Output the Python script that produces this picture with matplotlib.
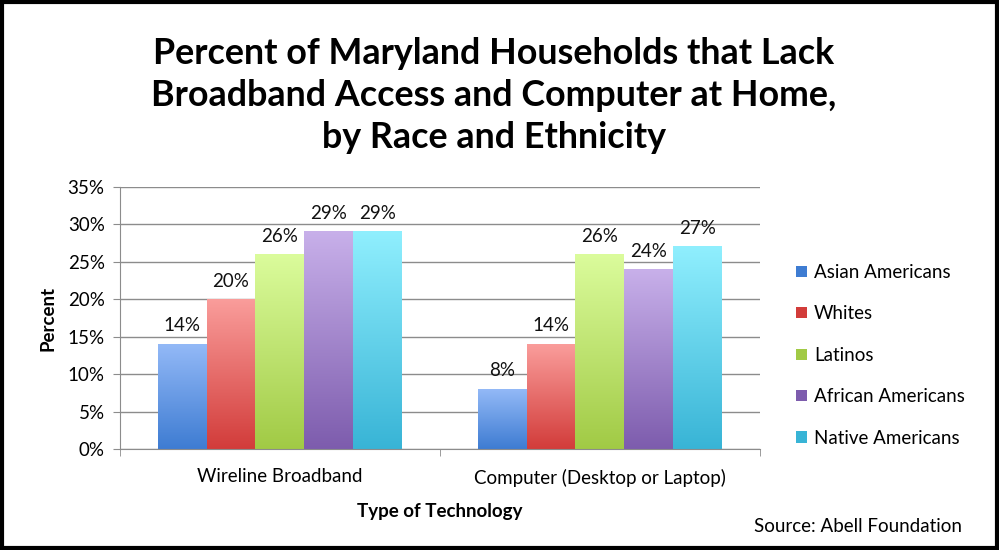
import numpy as np
import matplotlib
matplotlib.use("Agg")
import matplotlib.pyplot as plt
from matplotlib.colors import LinearSegmentedColormap
from matplotlib.patches import Rectangle

plt.rcParams['font.family'] = ['Lato', 'DejaVu Sans']

categories = ['Wireline Broadband', 'Computer (Desktop or Laptop)']
groups = ['Asian Americans', 'Whites', 'Latinos', 'African Americans', 'Native Americans']
values = {
    'Asian Americans': [14, 8],
    'Whites': [20, 14],
    'Latinos': [26, 26],
    'African Americans': [29, 24],
    'Native Americans': [29, 27],
}
# (top colour, bottom colour) for the gradient fill
shades = {
    'Asian Americans': ('#93b9f7', '#3e7cd2'),
    'Whites': ('#fa9d9b', '#d23c3a'),
    'Latinos': ('#dbfc9c', '#a1ca45'),
    'African Americans': ('#c8b0ea', '#7d5cad'),
    'Native Americans': ('#90effe', '#38b4d6'),
}
yticks = [0, 5, 10, 15, 20, 25, 30, 35]
fs = 13.5

fig = plt.figure(figsize=(9.99, 5.5), dpi=100)
ax = fig.add_axes([0.1201, 0.1836, 0.6406, 0.4764])

x = np.arange(len(categories))
width = 0.153
grad = np.linspace(1, 0, 256).reshape(-1, 1)

for i, g in enumerate(groups):
    pos = x - 2 * width + i * width
    bars = ax.bar(pos, values[g], width, color='none', edgecolor='none', zorder=2)
    cmap = LinearSegmentedColormap.from_list(g, [shades[g][1], shades[g][0]])
    for b, v in zip(bars, values[g]):
        x0, w, h = b.get_x(), b.get_width(), b.get_height()
        ax.imshow(grad, cmap=cmap, extent=[x0, x0 + w, 0, h], aspect='auto',
                  zorder=2, interpolation='bilinear', vmin=0, vmax=1)
        ax.text(x0 + w / 2, h + 1.3, f'{v}%', ha='center', va='bottom',
                fontsize=fs, color='#111111', zorder=3)

ax.set_xlim(-0.5, 1.5)
ax.set_ylim(0, 35)
ax.set_yticks(yticks)
ax.set_yticklabels([f'{t}%' for t in yticks], fontsize=fs)
ax.yaxis.grid(True, color='#8c8c8c', linewidth=1)
ax.set_axisbelow(True)
ax.set_xticks(x)
ax.set_xticklabels(categories, fontsize=fs)
ax.set_xticks([-0.5, 0.5, 1.5], minor=True)
ax.tick_params(axis='x', which='major', length=0, pad=14)
ax.tick_params(axis='x', which='minor', length=5, color='#8c8c8c')
ax.tick_params(axis='y', length=5, color='#8c8c8c', pad=6)
for s in ['top', 'right']:
    ax.spines[s].set_visible(False)
for s in ['left', 'bottom']:
    ax.spines[s].set_color('#8c8c8c')

ax.set_ylabel('Percent', fontsize=fs, fontweight='bold', labelpad=8)
ax.set_xlabel('Type of Technology', fontsize=fs, fontweight='bold', labelpad=12)

handles = [Rectangle((0, 0), 1, 1, facecolor=shades[g][1], edgecolor='none') for g in groups]
fig.legend(handles, groups, loc='center left', bbox_to_anchor=(0.797, 0.354),
           frameon=False, fontsize=fs, handlelength=0.55, handleheight=0.55,
           handletextpad=0.4, labelspacing=1.3, borderpad=0, borderaxespad=0)

fig.text(0.494, 0.827, 'Percent of Maryland Households that Lack\n'
         'Broadband Access and Computer at Home,\nby Race and Ethnicity',
         ha='center', va='center', fontsize=25.8, fontweight='bold', linespacing=1.33)
fig.text(0.963, 0.043, 'Source: Abell Foundation', ha='right', va='center', fontsize=fs)

fig.patches.append(Rectangle((0.002, 0.003), 0.996, 0.994, transform=fig.transFigure,
                             fill=False, edgecolor='black', linewidth=3))

fig.savefig('out.png', dpi=100)
